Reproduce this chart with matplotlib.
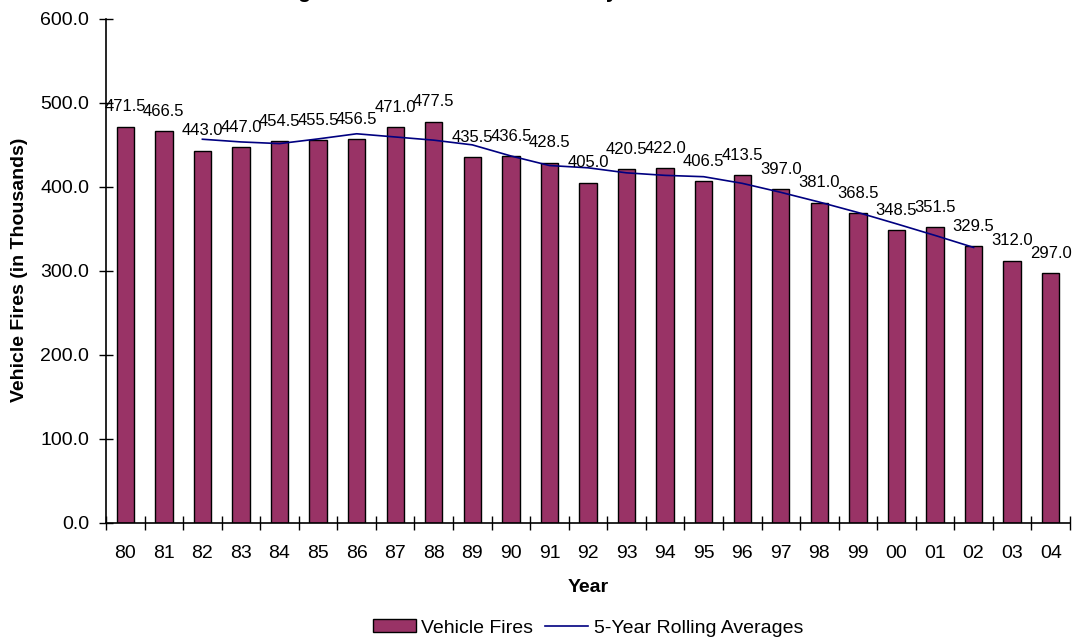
import matplotlib
matplotlib.use('Agg')
import numpy as np
import matplotlib.pyplot as plt

# Year labels (two digit) and vehicle fires in thousands.
years = ['80', '81', '82', '83', '84', '85', '86', '87', '88', '89', '90', '91',
         '92', '93', '94', '95', '96', '97', '98', '99', '00', '01', '02', '03', '04']
fires = [471.5, 466.5, 443.0, 447.0, 454.5, 455.5, 456.5, 471.0, 477.5, 435.5,
         436.5, 428.5, 405.0, 420.5, 422.0, 406.5, 413.5, 397.0, 381.0, 368.5,
         348.5, 351.5, 329.5, 312.0, 297.0]

# 5-year rolling averages, drawn from 82 through 02.
avg_years = years[2:23]
rolling = [456.5, 453.3, 451.3, 456.9, 463.0, 459.2, 455.4, 449.8, 436.6, 425.2,
           422.5, 416.5, 413.5, 411.9, 404.0, 393.3, 381.7, 369.3, 355.8, 342.0,
           327.7]

y_ticks = [0, 100, 200, 300, 400, 500, 600]

plt.rcParams['font.family'] = ['Liberation Sans', 'DejaVu Sans']

W, H = 1073, 639
fig = plt.figure(figsize=(W / 100, H / 100), dpi=100)
ax = fig.add_axes([106 / W, 1 - 522.7 / H, (1070 - 106) / W, (522.7 - 18.7) / H])

x = np.arange(len(years))
bars = ax.bar(x, fires, width=0.45, color='#993366', edgecolor='black',
              linewidth=1.0, label='Vehicle Fires', zorder=2)
xa = np.array([years.index(y) for y in avg_years])
line, = ax.plot(xa, rolling, color='#000080', linewidth=1.2,
                label='5-Year Rolling Averages', zorder=3)

# Value labels over bars.
for xi, v in zip(x, fires):
    ax.annotate(f'{v:.1f}', (xi, v), xytext=(0, 11), textcoords='offset points',
                ha='center', va='baseline', fontsize=12, color='black', zorder=4)

ax.set_xlim(-0.5, len(years) - 0.5)
ax.set_ylim(0, 600)
ax.set_yticks(y_ticks)
ax.set_yticklabels([f'{t:.1f}' for t in y_ticks])
ax.set_xticks(x)
ax.set_xticklabels(years)
ax.set_xticks(np.arange(len(years) + 1) - 0.5, minor=True)

for s in ('top', 'right'):
    ax.spines[s].set_visible(False)
for s in ('left', 'bottom'):
    ax.spines[s].set_linewidth(1.2)

ax.tick_params(axis='x', which='major', length=0, pad=16, labelsize=14)
ax.tick_params(axis='x', which='minor', direction='inout', length=10, width=1.0)
ax.tick_params(axis='y', direction='inout', length=10, width=1.0, pad=7, labelsize=14)

# Axis titles.
fig.text(588 / W, 1 - 588 / H, 'Year', ha='center', va='center',
         fontsize=14, fontweight='bold')
fig.text(20 / W, 1 - 270 / H, 'Vehicle Fires (in Thousands)', ha='center', va='center',
         rotation=90, fontsize=14, fontweight='bold')

# Chart title sits mostly above the visible area.
fig.text(260 / W, 1 + 2.4 / H, 'Long Term Trend in Vehicle Fires by Year',
         ha='left', va='baseline', fontsize=15, fontweight='bold')

fig.legend([bars, line], ['Vehicle Fires', '5-Year Rolling Averages'],
           loc='center', bbox_to_anchor=(588 / W, 1 - 628 / H), ncol=2,
           frameon=False, fontsize=14, handlelength=2.2, handletextpad=0.3,
           columnspacing=0.6, handleheight=0.6)

fig.savefig('out.png', dpi=100)
